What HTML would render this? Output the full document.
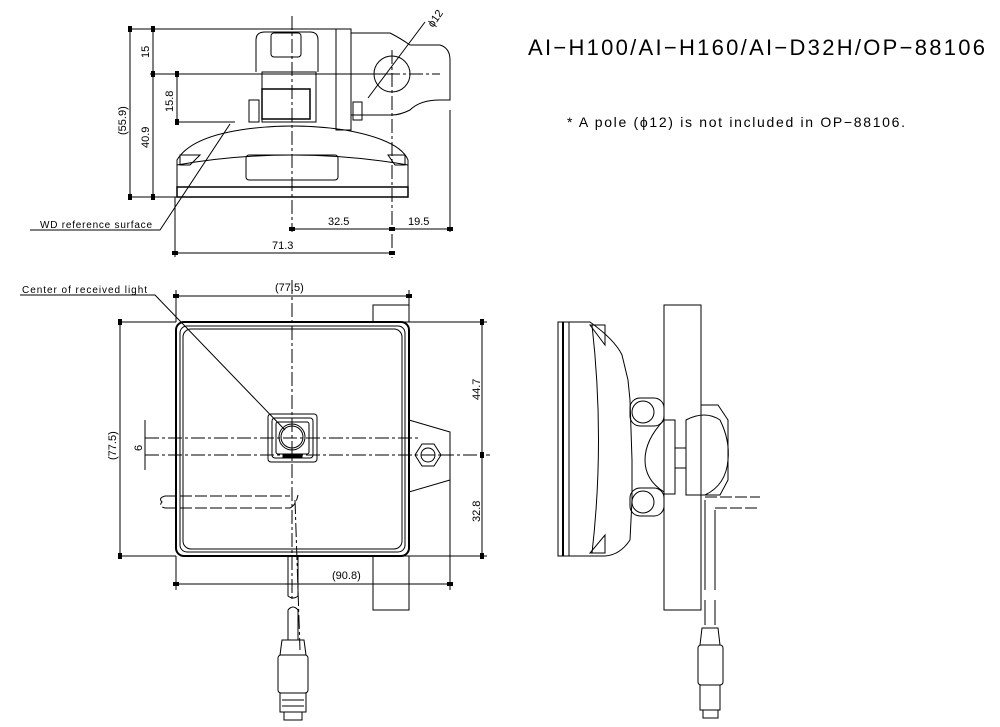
<!DOCTYPE html>
<html><head><style>
html,body{margin:0;padding:0;background:#fff;}
svg{display:block;}
text{font-family:"Liberation Sans",sans-serif;fill:#000;}
</style></head><body>
<svg width="1000" height="727" viewBox="0 0 1000 727" xmlns="http://www.w3.org/2000/svg" fill="none" stroke="#000" stroke-width="1">
<defs>
<marker id="a" markerWidth="6" markerHeight="4" refX="3" refY="2" orient="auto"><rect width="6" height="4" fill="#000" stroke="none"/></marker>
</defs>
<!-- titles -->
<text x="528" y="55" font-size="22" stroke="none" textLength="457" lengthAdjust="spacing">AI−H100/AI−H160/AI−D32H/OP−88106</text>
<text x="567" y="127" font-size="14" stroke="none" textLength="338" lengthAdjust="spacing">* A pole (ϕ12) is not included in OP−88106.</text>

<!-- ===== TOP VIEW ===== -->
<g stroke-dasharray="14,3,3,3">
<line x1="292" y1="16" x2="292" y2="232"/>
<line x1="392" y1="50" x2="392" y2="258"/>
<line x1="340" y1="74" x2="440" y2="74"/>
<line x1="292" y1="280" x2="292" y2="600"/>
<line x1="145" y1="438" x2="420" y2="438"/>
<line x1="440" y1="455" x2="490" y2="455"/>
<line x1="295" y1="500" x2="300" y2="650"/>
</g>
<line x1="128" y1="29" x2="350" y2="29"/>
<line x1="150" y1="74" x2="392" y2="74"/>
<line x1="175" y1="122" x2="235" y2="122"/>
<line x1="128" y1="197" x2="177" y2="197"/>
<line x1="130" y1="29" x2="130" y2="197" marker-start="url(#a)" marker-end="url(#a)"/>
<line x1="153" y1="29" x2="153" y2="74" marker-start="url(#a)" marker-end="url(#a)"/>
<line x1="153" y1="74" x2="153" y2="197" marker-start="url(#a)" marker-end="url(#a)"/>
<line x1="177" y1="74" x2="177" y2="122" marker-start="url(#a)" marker-end="url(#a)"/>
<text transform="translate(149,58) rotate(-90)" font-size="11" stroke="none">15</text>
<text transform="translate(173,112) rotate(-90)" font-size="11" stroke="none">15.8</text>
<text transform="translate(126,135) rotate(-90)" font-size="11" stroke="none">(55.9)</text>
<text transform="translate(149,148) rotate(-90)" font-size="11" stroke="none">40.9</text>
<!-- body -->
<path d="M256 72 V40 Q256 32 265 32 H310 Q318 32 318 40 V72"/>
<rect x="271" y="33" width="30" height="24" rx="3"/>
<path d="M262 72 H316 V122 H262 Z"/>
<rect x="262" y="89" width="48" height="30" stroke-width="1.5"/>
<rect x="249" y="100" width="10" height="22"/>
<rect x="353" y="102" width="9" height="18"/>
<rect x="336" y="29" width="15" height="101"/>
<path d="M351 33 H390 Q400 38 410 45 H440 Q450 48 450 60 V100 H440 Q420 100 410 110 Q400 115 392 115 H351"/>
<circle cx="392" cy="74" r="18"/>
<line x1="368" y1="98" x2="425" y2="22"/>
<text transform="translate(433,28) rotate(-55)" font-size="11" stroke="none">ϕ12</text>
<path d="M177 187 V160 Q190 138 240 130 Q292 122 345 130 Q400 140 408 160 V187"/>
<path d="M177 165 Q292 145 408 165"/>
<rect x="246" y="155" width="92" height="25" rx="3"/>
<path d="M180 155 H200 L190 165 H180 Z M388 155 H405 V165 H395 Z"/>
<rect x="177" y="187" width="231" height="10" stroke-width="1.5"/>
<line x1="175" y1="197" x2="175" y2="257"/>
<line x1="450" y1="110" x2="450" y2="232"/>
<line x1="292" y1="229" x2="392" y2="229" marker-start="url(#a)" marker-end="url(#a)"/>
<line x1="392" y1="229" x2="450" y2="229" marker-start="url(#a)" marker-end="url(#a)"/>
<text x="328" y="225" font-size="11" stroke="none">32.5</text>
<text x="408" y="225" font-size="11" stroke="none">19.5</text>
<line x1="175" y1="253" x2="392" y2="253" marker-start="url(#a)" marker-end="url(#a)"/>
<text x="272" y="249" font-size="11" stroke="none">71.3</text>
<text x="40" y="228" font-size="10" stroke="none" textLength="112" lengthAdjust="spacing">WD reference surface</text>
<polyline points="30,230 160,230 230,124"/>

<!-- ===== FRONT VIEW ===== -->
<text x="22" y="293" font-size="10" stroke="none" textLength="125" lengthAdjust="spacing">Center of received light</text>
<polyline points="20,295 155,295 285,430"/>
<line x1="176" y1="296" x2="409" y2="296" marker-start="url(#a)" marker-end="url(#a)"/>
<text x="275" y="291" font-size="11" stroke="none">(77.5)</text>
<line x1="176" y1="290" x2="176" y2="322"/>
<line x1="409" y1="290" x2="409" y2="322"/>
<rect x="373" y="305" width="36" height="17"/>
<rect x="176" y="322" width="233" height="234" rx="8" stroke-width="2"/>
<rect x="180" y="326" width="225" height="226" rx="7"/>
<rect x="183" y="329" width="219" height="220" rx="8"/>
<line x1="118" y1="322" x2="176" y2="322"/><line x1="118" y1="556" x2="176" y2="556"/>
<line x1="120" y1="322" x2="120" y2="556" marker-start="url(#a)" marker-end="url(#a)"/>
<text transform="translate(116,460) rotate(-90)" font-size="11" stroke="none">(77.5)</text>
<line x1="409" y1="322" x2="487" y2="322"/><line x1="409" y1="556" x2="487" y2="556"/>
<line x1="482" y1="322" x2="482" y2="455" marker-start="url(#a)" marker-end="url(#a)"/>
<line x1="482" y1="455" x2="482" y2="556" marker-start="url(#a)" marker-end="url(#a)"/>
<text transform="translate(480,400) rotate(-90)" font-size="11" stroke="none">44.7</text>
<text transform="translate(480,522) rotate(-90)" font-size="11" stroke="none">32.8</text>
<line x1="145" y1="455" x2="440" y2="455" stroke-dasharray="14,3,3,3"/>
<line x1="145" y1="420" x2="145" y2="470"/>
<text transform="translate(142,451) rotate(-90)" font-size="11" stroke="none">6</text>
<rect x="268" y="414" width="49" height="48" rx="3"/>
<rect x="272" y="418" width="41" height="40" rx="3"/>
<rect x="276" y="422" width="33" height="32" rx="2"/>
<circle cx="292" cy="437" r="13"/><circle cx="292" cy="437" r="11"/>
<rect x="283" y="454" width="19" height="4" fill="#000"/>
<polygon points="409,420 450,432 450,480 409,492"/>
<polygon points="422,444 434,444 441,455 434,466 422,466 415,455"/>
<circle cx="428" cy="455" r="7"/>
<path d="M165 496 H290 M165 508 H290 Q296 505 298 495 M165 496 Q158 498 162 502 Q158 506 165 508" stroke-dasharray="12,3"/>
<rect x="373" y="556" width="36" height="54"/>
<line x1="450" y1="480" x2="450" y2="590"/>
<line x1="176" y1="584" x2="450" y2="584" marker-start="url(#a)" marker-end="url(#a)"/>
<text x="332" y="579" font-size="11" stroke="none">(90.8)</text>
<line x1="176" y1="556" x2="176" y2="590"/>
<path d="M288 556 V596 Q293 600 298 596 V556"/>
<path d="M288 610 Q293 604 298 610 V640 M288 610 V640"/>
<path d="M282 640 H304 L306 655 L280 655 Z"/>
<rect x="278" y="655" width="30" height="38" rx="3"/>
<path d="M280 693 H306 V712 H280 Z"/>
<path d="M282 700 H304 M282 706 H304"/>
<rect x="284" y="712" width="18" height="8"/>

<!-- ===== SIDE VIEW ===== -->
<rect x="558" y="322" width="11" height="234"/>
<line x1="563" y1="322" x2="563" y2="556" stroke-width="2"/>
<path d="M569 322 H590 Q615 340 622 355 L628 380 L630 400 L632 460 L632 500 L630 540 Q620 555 605 556 H569"/>
<path d="M592 325 Q605 440 592 553"/>
<path d="M590 325 H605 V345 Z M590 553 H605 V535 Z"/>
<rect x="664" y="305" width="37" height="305"/>
<rect x="630" y="398" width="34" height="28" rx="10"/>
<circle cx="643" cy="412" r="11"/>
<rect x="630" y="488" width="34" height="28" rx="10"/>
<circle cx="643" cy="502" r="11"/>
<path d="M664 420 Q645 440 645 460 Q645 480 664 492"/>
<path d="M664 420 H675 V494 H664"/>
<path d="M686 420 Q705 410 720 420 Q730 440 728 460 Q726 485 705 495 H686 Z"/>
<rect x="675" y="448" width="11" height="20"/>
<path d="M701 405 H718 L728 420 V480 L720 495 H701"/>
<path d="M705 500 V590 M715 510 V590 M705 600 V625 M715 600 V625"/>
<path d="M705 497 H760 M715 508 H760" stroke-dasharray="12,3"/>
<path d="M702 628 H718 L720 645 L700 645 Z"/>
<rect x="698" y="645" width="25" height="40" rx="3"/>
<rect x="700" y="685" width="20" height="25"/>
<rect x="703" y="710" width="15" height="8"/>
</svg>
</body></html>
